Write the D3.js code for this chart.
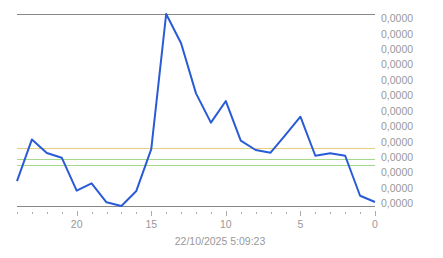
<!DOCTYPE html>
<html>
<head>
<meta charset="utf-8">
<script src="https://cdn.jsdelivr.net/npm/d3@7"></script>
<style>
  body { margin: 0; background: #fff; }
  text { font-family: "Liberation Sans", Arial, sans-serif; fill: #999; }
</style>
</head>
<body>
<div class="chart"></div>
<script>
var w = 443;
var h = 258;

// hours ago (24 -> 0) and the value read at each one
var hours = [24, 23, 22, 21, 20, 19, 18, 17, 16, 15, 14, 13, 12, 11, 10, 9, 8, 7, 6, 5, 4, 3, 2, 1, 0];
var values = [1.56, 4.16, 3.31, 3.02, 0.96, 1.42, 0.23, 0, 0.94, 3.56, 12, 10.17, 7.04, 5.21, 6.56, 4.08, 3.5, 3.33, 4.44, 5.58, 3.14, 3.29, 3.14, 0.64, 0.25];

// reference levels
var levels = [3.63, 2.94, 2.56];
var levelColors = ["#e6cf80", "#a6d98f", "#a6d98f"];

var xTicks = [20, 15, 10, 5, 0];
var yLabels = ["0,0000", "0,0000", "0,0000", "0,0000", "0,0000", "0,0000", "0,0000",
               "0,0000", "0,0000", "0,0000", "0,0000", "0,0000", "0,0000"];
var stamp = "22/10/2025 5:09:23";

var margin = {left: 17, right: 68, top: 14, bottom: 52};

var svg = d3.select(".chart").append("svg")
    .attr("width", w)
    .attr("height", h);

var x = d3.scaleLinear().domain([24, 0]).range([margin.left, w - margin.right]);
var y = d3.scaleLinear().domain([0, 12]).range([h - margin.bottom, margin.top]);
// labels sit slightly inside the frame
var yLab = d3.scaleLinear().domain([0, yLabels.length - 1]).range([h - margin.bottom - 2.5, margin.top + 4.5]);

// reference lines
svg.selectAll(".level")
    .data(levels)
    .enter().append("line")
    .attr("x1", x(24)).attr("x2", x(0))
    .attr("y1", d => Math.round(y(d)) + 0.5)
    .attr("y2", d => Math.round(y(d)) + 0.5)
    .attr("stroke", (d, i) => levelColors[i])
    .attr("stroke-width", 1);

// frame lines top and bottom
svg.selectAll(".frame")
    .data([12, 0])
    .enter().append("line")
    .attr("x1", x(24)).attr("x2", x(0))
    .attr("y1", d => Math.round(y(d)) + 0.5)
    .attr("y2", d => Math.round(y(d)) + 0.5)
    .attr("stroke", "#888")
    .attr("stroke-width", 1);

// x ticks, minor every hour, major every 5
svg.selectAll(".tick")
    .data(d3.range(24, -1, -1))
    .enter().append("line")
    .attr("x1", d => Math.round(x(d)) + 0.5)
    .attr("x2", d => Math.round(x(d)) + 0.5)
    .attr("y1", d => d % 5 == 0 ? y(0) + 5 : y(0) + 6)
    .attr("y2", d => d % 5 == 0 ? y(0) + 10 : y(0) + 8)
    .attr("stroke", "#aaa");

svg.selectAll(".xlab")
    .data(xTicks)
    .enter().append("text")
    .attr("x", d => x(d))
    .attr("y", y(0) + 22)
    .attr("text-anchor", "middle")
    .style("font-size", "10.5px")
    .text(d => d);

svg.selectAll(".ylab")
    .data(yLabels)
    .enter().append("text")
    .attr("x", x(0) + 6)
    .attr("y", (d, i) => yLab(i))
    .attr("dy", "0.35em")
    .style("font-size", "10.5px")
    .text(d => d);

svg.append("text")
    .attr("x", (x(24) + x(0)) / 2 + 24)
    .attr("y", y(0) + 39)
    .attr("text-anchor", "middle")
    .style("font-size", "10.5px")
    .text(stamp);

// the series
var line = d3.line()
    .x((d, i) => x(hours[i]))
    .y(d => y(d));

svg.append("path")
    .datum(values)
    .attr("d", line)
    .attr("fill", "none")
    .attr("stroke", "#2a5bd7")
    .attr("stroke-width", 2)
    .attr("stroke-linejoin", "round");
</script>
</body>
</html>
